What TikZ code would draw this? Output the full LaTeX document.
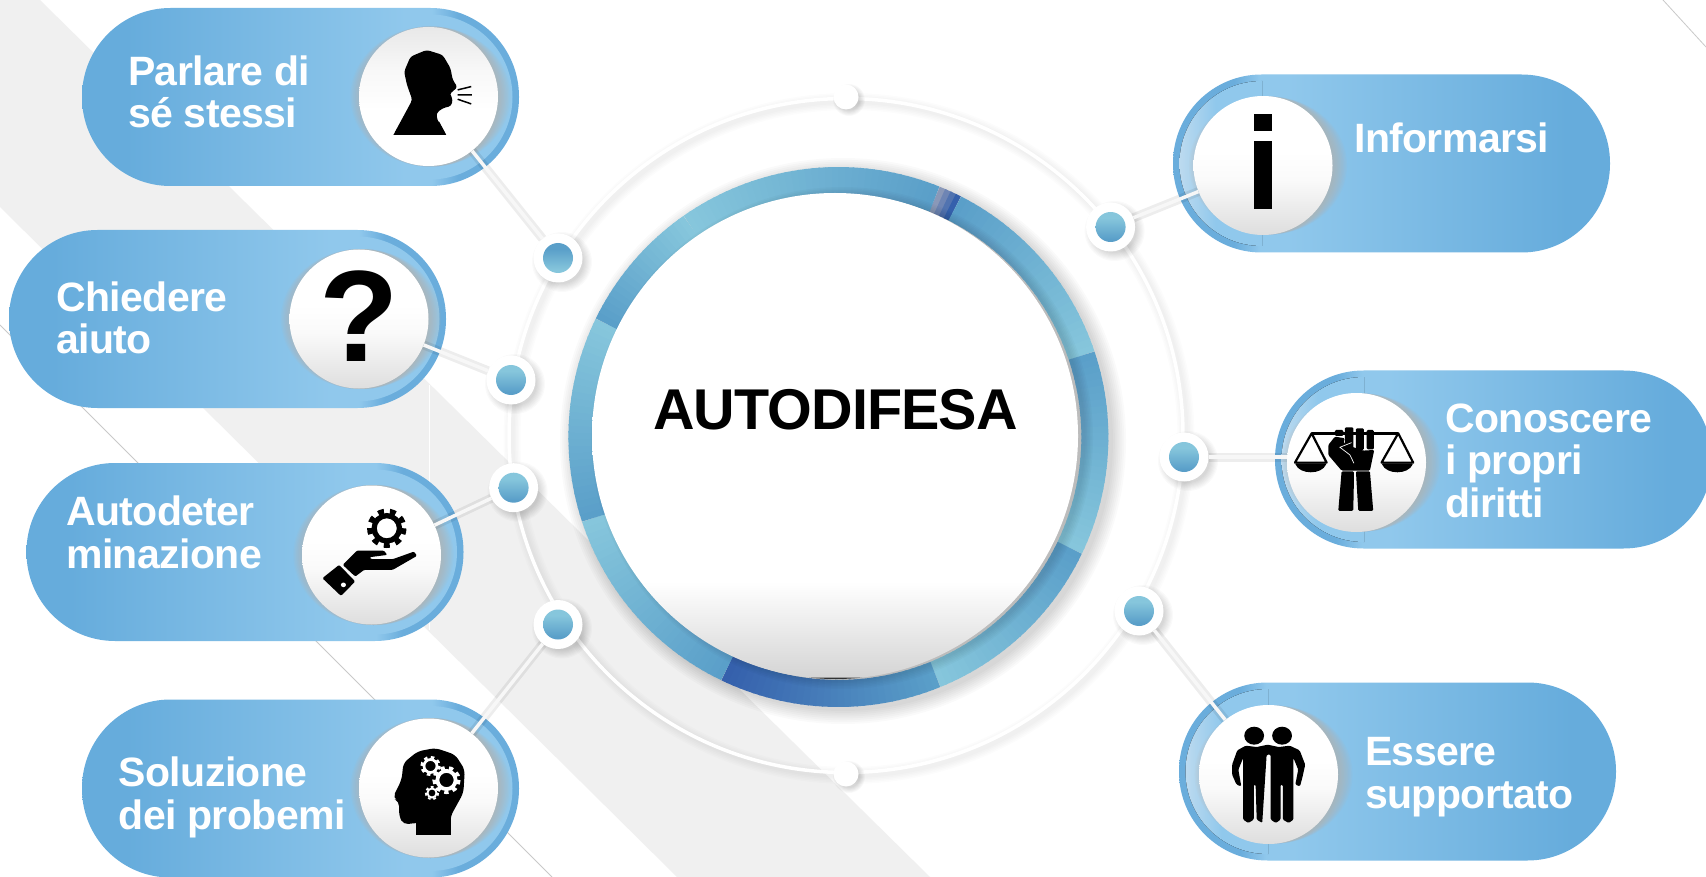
\documentclass[tikz,border=0pt]{standalone}
\usepackage{fontspec}
\setmainfont[LetterSpace=-1.5]{Liberation Sans Bold}
\definecolor{pilld}{HTML}{66ACDC}
\definecolor{pilll}{HTML}{90C8EC}
\definecolor{rimc}{HTML}{6AADDC}
\definecolor{bandg}{HTML}{F0F0F0}
\definecolor{lineg}{HTML}{C9C9C9}
\definecolor{rd}{HTML}{5A9FC9}
\definecolor{rl}{HTML}{86C6DC}
\definecolor{rb}{HTML}{3560AC}
\definecolor{rg}{HTML}{8A98B8}
\definecolor{shg}{HTML}{C4AE9E}
\definecolor{lightb}{HTML}{BCDAEF}
\pgfdeclarehorizontalshading{pillright}{100bp}{color(0bp)=(pilld);color(30bp)=(pilld);color(62bp)=(pilll);color(65bp)=(pilll);color(68bp)=(rimc);color(100bp)=(rimc)}
\pgfdeclarehorizontalshading{pillleft}{100bp}{color(0bp)=(rimc);color(32bp)=(rimc);color(35bp)=(pilll);color(38bp)=(pilll);color(70bp)=(pilld);color(100bp)=(pilld)}
\pgfdeclarehorizontalshading{crescentleft}{100bp}{color(0bp)=(lightb);color(25bp)=(lightb);color(36bp)=(pilll);color(100bp)=(pilll)}
\pgfdeclareverticalshading{discdown}{100bp}{color(0bp)=(black!13);color(25bp)=(black!13);color(45bp)=(black!2);color(55bp)=(white);color(100bp)=(white)}
\pgfdeclareverticalshading{discup}{100bp}{color(0bp)=(white);color(45bp)=(white);color(60bp)=(black!3);color(75bp)=(black!9);color(100bp)=(black!9)}
\pgfdeclareverticalshading{coreshade}{100bp}{color(0bp)=(black!17);color(25bp)=(black!17);color(35bp)=(white);color(100bp)=(white)}
\pgfdeclareverticalshading{dotshade}{100bp}{color(0bp)=(rd);color(30bp)=(rd);color(65bp)=(rl);color(100bp)=(rl)}
\pgfdeclareverticalshading{dotflip}{100bp}{color(0bp)=(rl);color(30bp)=(rl);color(65bp)=(rd);color(100bp)=(rd)}
\tikzset{
  disc/.style={circle,minimum size=139,inner sep=0,shading=discdown},
  discflip/.style={circle,minimum size=139,inner sep=0,shading=discup},
  dotnode/.style={circle,fill=white,minimum size=49,inner sep=0},
  smalldot/.style={circle,fill=white,minimum size=25,inner sep=0},
  linknode/.style={line width=3.5,white!97!black},
  linkhalo/.style={line width=9,black,opacity=0.07},
  lab/.style={white,align=left,inner sep=0,anchor=base west,font=\fontsize{41}{42.4}\selectfont},
  pillbox/.style={rounded corners=88.5,minimum width=437,minimum height=178,inner sep=0},
  ic/.style={black,rounded corners=1.2pt},
  icsoft/.style={black,rounded corners=5pt},
}
% soft shadow: centre x,y, inner radius, outer radius
\newcommand{\softshadow}[4]{%
  \foreach \k in {0,...,7}{%
    \pgfmathsetmacro{\rr}{#3+(#4-#3)*\k/7}%
    \fill[black,opacity=0.02] (#1,#2) circle[radius=\rr];}}
% ring segment: from angle a going clockwise to b, colours ca to cb
\newcommand{\ringseg}[4]{%
  \pgfmathsetmacro{\nn}{int(abs(#1-(#2))/1.5)}%
  \foreach \k in {0,...,\nn}{%
    \pgfmathsetmacro{\aa}{#1+(#2-(#1))*\k/(\nn+1)}%
    \pgfmathsetmacro{\bb}{#1+(#2-(#1))*(\k+1)/(\nn+1)+(\k<\nn?-0.4:0)}%
    \pgfmathsetmacro{\pp}{100*\k/\nn}%
    \draw[line width=27,#4!\pp!#3] ({838.4+256.5*cos(\aa)},{437-256.5*sin(\aa)}) -- ({838.4+256.5*cos(\bb)},{437-256.5*sin(\bb)});}}
\newcommand{\mygear}[5]{% x y radius teeth colour
  \pgfmathsetmacro{\dd}{3.1416*2*#3*0.88/#4/2}%
  \draw[#5,line width=#3*0.27] (#1,#2) circle[radius=#3*0.65];
  \draw[#5,line width=#3*0.26,dash pattern=on \dd pt off \dd pt] (#1,#2) circle[radius=#3*0.88];}
\begin{document}
\begin{tikzpicture}[x=1pt,y=-1pt]
\useasboundingbox (0,0) rectangle (1706,877);
\fill[white] (0,0) rectangle (1706,877);
% background band and thin lines
\fill[bandg] (0,0) -- (40,0) -- (930,877) -- (677,877) -- (0,207) -- cycle;
\draw[lineg,line width=0.8] (0,325) -- (552,877);
\draw[lineg,line width=0.8] (1663,0) -- (1706,47);
\draw[white,line width=1] (429,385) -- (429,630);
% orbit
\foreach \k in {1,...,5}{\draw[black,opacity=0.012,line width=2+3*\k] (849,438.5) circle[radius=337];}
\node[circle,draw=white,line width=3.5,minimum size=674,inner sep=0] (orbit) at (846,435.5) {};
% central ring
\softshadow{843}{441}{270}{283}
\ringseg{68}{63}{rg}{rb}
\ringseg{63}{18.5}{rd}{rl}
\ringseg{18.5}{-25.6}{rd}{rl}
\ringseg{-25.6}{-67.8}{rd}{rl}
\ringseg{-67.8}{-115.7}{rd}{rb}
\ringseg{-115.7}{-161.7}{rd}{rl}
\ringseg{-161.7}{-206}{rd}{rl}
\ringseg{-206}{-235}{rd}{rl}
\ringseg{-235}{-292}{rl}{rd}
\foreach \k in {1,...,6}{\fill[black,opacity=0.02] (842,438) circle[radius=242+1.5*\k];}
\node[circle,minimum size=486,inner sep=0,shading=coreshade] (core) at (835,436) {};
\fill[black!80] (809,677.5) .. controls (825,679.5) and (846,679.5) .. (862,677.5) -- cycle;
\node[inner sep=0,anchor=base,font=\fontsize{57.5}{60}\selectfont,black] (title) at (835.5,429) {AUTODIFESA};
% pills
\node[pillbox,shading=pillright] (p1) at (300.5,97) {};
\node[pillbox,shading=pillright] (p2) at (227.5,319) {};
\node[pillbox,shading=pillright] (p3) at (245,552) {};
\node[pillbox,shading=pillright] (p4) at (300.5,788.5) {};
\node[pillbox,shading=pillleft] (p5) at (1391.5,163.5) {};
\node[pillbox,shading=pillleft] (p6) at (1493.5,459.5) {};
\node[pillbox,shading=pillleft] (p7) at (1397.5,771.5) {};
% inner half circles leaving a thin rim
\foreach \xx/\yy in {1262/163.5,1364/459.5,1268/771.5}{
  \begin{scope}
  \clip (\xx-90,\yy-90) rectangle (\xx,\yy+90);
  \fill[shading=crescentleft] (\xx,\yy) circle[radius=82.5];
  \end{scope}}
\foreach \xx/\yy in {430/97,357/319,374.5/552,430/788.5}{
  \begin{scope}
  \clip (\xx,\yy-90) rectangle (\xx+90,\yy+90);
  \fill[pilll] (\xx,\yy) circle[radius=82.5];
  \end{scope}}
% grey shade to the right of each disc
\foreach \xx/\yy in {428.5/96.5,359/319,371.5/555,428.5/788}{
  \foreach \k in {0,...,9}{\fill[shg,opacity=0.075] (\xx+2,\yy) ellipse[x radius=68+1.35*\k,y radius=70];}}
\foreach \xx/\yy in {1263/165.5,1356.5/462.5,1268.5/774.5}{
  \foreach \k in {0,...,9}{\fill[shg,opacity=0.07] (\xx+5,\yy) ellipse[x radius=66+1.45*\k,y radius=69];}}
% discs
\node[discflip] (c1) at (428.5,96.5) {};
\node[disc] (c2) at (359,319) {};
\node[disc] (c3) at (371.5,555) {};
\node[disc] (c4) at (428.5,788) {};
\node[disc] (c5) at (1263,165.5) {};
\node[disc] (c6) at (1356.5,462.5) {};
\node[disc] (c7) at (1268.5,774.5) {};
% connector dots
\foreach \nm/\xx/\yy/\sh in {n1/558/258/dotflip,n2/511/380/dotshade,n3/513.6/487.7/dotshade,n4/558/624.5/dotshade,n5/1110.6/227/dotshade,n6/1184/457/dotshade,n7/1139/611/dotshade}{
  \softshadow{\xx+4}{\yy+4}{22}{30}
  \node[dotnode] (\nm) at (\xx,\yy) {};
  \node[circle,minimum size=30,inner sep=0,shading=\sh] (\nm i) at (\xx,\yy) {};
}
\foreach \nm/\xx/\yy in {s1/846/97,s2/846/774}{
  \softshadow{\xx+3}{\yy+3}{11}{16}
  \node[smalldot] (\nm) at (\xx,\yy) {};
}
% connectors
\draw[linkhalo] (n1) -- (c1);
\draw[linkhalo] (n2) -- (c2);
\draw[linkhalo] (n3) -- (c3);
\draw[linkhalo] (n4) -- (c4);
\draw[linkhalo] (n5) -- (c5);
\draw[linkhalo] (n6) -- (c6.west |- n6);
\draw[linkhalo] (n7) -- (c7);
\draw[linknode] (n1) -- (c1);
\draw[linknode] (n2) -- (c2);
\draw[linknode] (n3) -- (c3);
\draw[linknode] (n4) -- (c4);
\draw[linknode] (n5) -- (c5);
\draw[linknode] (n6) -- (c6.west |- n6);
\draw[linknode] (n7) -- (c7);
% labels
\node[lab] (t1) at (128,128) {Parlare di\\sé stessi};
\node[lab] (t2) at (56,354) {Chiedere\\aiuto};
\node[lab] (t3) at (66,568) {Autodeter\\minazione};
\node[lab] (t4) at (118.5,829) {Soluzione\\dei probemi};
\node[lab] (t5) at (1354,153) {Informarsi};
\node[lab] (t6) at (1445,517) {Conoscere\\i propri\\diritti};
\node[lab] (t7) at (1365,808) {Essere\\supportato};
% icon: speaking head
\begin{scope}[x=0.357pt,y=-0.333pt]
\fill[black,rounded corners=3pt] (1102,405) -- (1155,300) -- (1140,255) -- (1132,215) -- (1150,170) -- (1195,150) -- (1240,165) -- (1262,205) -- (1268,240) -- (1282,262) -- (1270,272) -- (1258,285) -- (1268,292) -- (1265,318) -- (1240,325) -- (1222,340) -- (1225,360) -- (1250,405) -- cycle;
\fill[black] (1102,405) -- (1125,365) -- (1230,365) -- (1250,405) -- cycle;
\draw[black,line width=1.5] (1282,270) -- (1320,260) (1282,285) -- (1322,285) (1282,298) -- (1320,312);
\end{scope}
% icon: question mark
\node[inner sep=0,anchor=base,font=\fontsize{130}{130}\selectfont,black] (qm) at (359,362) {?};
% icon: hand and gear
\begin{scope}[shift={(0,440)},x=0.357pt,y=-0.333pt]
\fill[ic] (903,415) -- (950,375) -- (995,425) -- (955,468) -- cycle;
\fill[white] (962,435) ellipse[x radius=7,y radius=7];
\fill[ic] (960,375) -- (1000,332) -- (1075,332) -- (1085,345) -- (1035,352) -- (1040,358) -- (1100,358) -- (1160,335) -- (1168,348) -- (1100,390) -- (1020,390) -- (995,410) -- cycle;
\end{scope}
\mygear{386.8}{528.3}{19.5}{9}{black}
% icon: head with gears
\begin{scope}[shift={(0,440)},x=0.357pt,y=-0.333pt]
\fill[icsoft] (1165,1150) -- (1130,1155) -- (1118,1130) -- (1118,1085) -- (1100,1075) -- (1125,1020) -- (1130,970) -- (1170,935) -- (1220,925) -- (1275,945) -- (1302,990) -- (1298,1060) -- (1262,1130) -- (1262,1150) -- cycle;
\fill[black] (1165,1187) rectangle (1262,1125);
\end{scope}
\mygear{430.5}{766}{10}{8}{white}
\mygear{446.5}{780}{14}{9}{white}
\mygear{432}{793}{7}{7}{white}
% icon: information
\fill[black] (1253.5,114) rectangle (1272,131);
\fill[black] (1253.5,141) rectangle (1272,209);
% icon: scales and fist
\begin{scope}[shift={(1280,400)},x=0.333pt,y=-0.333pt]
\draw[black,line width=2.6] (95,100) -- (355,100);
\draw[black,line width=2.2,line join=round] (95,100) -- (45,188) -- (140,188) -- cycle;
\draw[black,line width=2.2,line join=round] (355,100) -- (305,188) -- (400,188) -- cycle;
\fill[ic] (45,190) .. controls (60,225) and (125,225) .. (140,190) -- cycle;
\fill[ic] (305,190) .. controls (320,225) and (385,225) .. (400,190) -- cycle;
\fill[ic] (165,90) -- (190,90) -- (190,108) -- (165,108) -- cycle;
\fill[ic] (195,82) -- (220,82) -- (220,148) -- (195,148) -- cycle;
\fill[ic] (228,85) -- (252,85) -- (252,150) -- (228,150) -- cycle;
\fill[ic] (260,90) -- (282,90) -- (282,148) -- (260,148) -- cycle;
\fill[ic] (165,110) -- (195,115) -- (190,128) -- (215,140) -- (250,152) -- (283,150) -- (270,212) -- (185,212) -- (145,165) -- (145,135) -- cycle;
\draw[white,line width=0.7] (215,128) -- (180,142) -- (210,165) -- (222,190);
\fill[ic] (185,214) -- (222,214) -- (222,240) -- (220,333) -- (175,333) -- cycle;
\fill[ic] (228,214) -- (270,214) -- (280,333) -- (235,333) -- cycle;
\end{scope}
% icon: two friends
\begin{scope}[shift={(1130,440)},x=0.3673pt,y=-0.333pt]
\fill[black] (338,888) circle[radius=27];
\fill[black] (414,888) circle[radius=27];
\fill[ic] (292,932) -- (315,918) -- (345,922) -- (375,915) -- (405,922) -- (435,918) -- (462,932) -- (477,975) -- (470,1010) -- (463,1040) -- (450,1035) -- (458,990) -- (445,955) -- (445,1140) -- (432,1150) -- (416,1140) -- (416,1035) -- (410,1035) -- (410,1140) -- (397,1150) -- (383,1140) -- (383,945) -- (372,945) -- (360,1150) -- (345,1140) -- (342,1035) -- (337,1035) -- (337,1140) -- (322,1150) -- (308,1140) -- (308,955) -- (295,990) -- (303,1040) -- (290,1035) -- (278,1005) -- (278,975) -- cycle;
\end{scope}
\end{tikzpicture}
\end{document}
